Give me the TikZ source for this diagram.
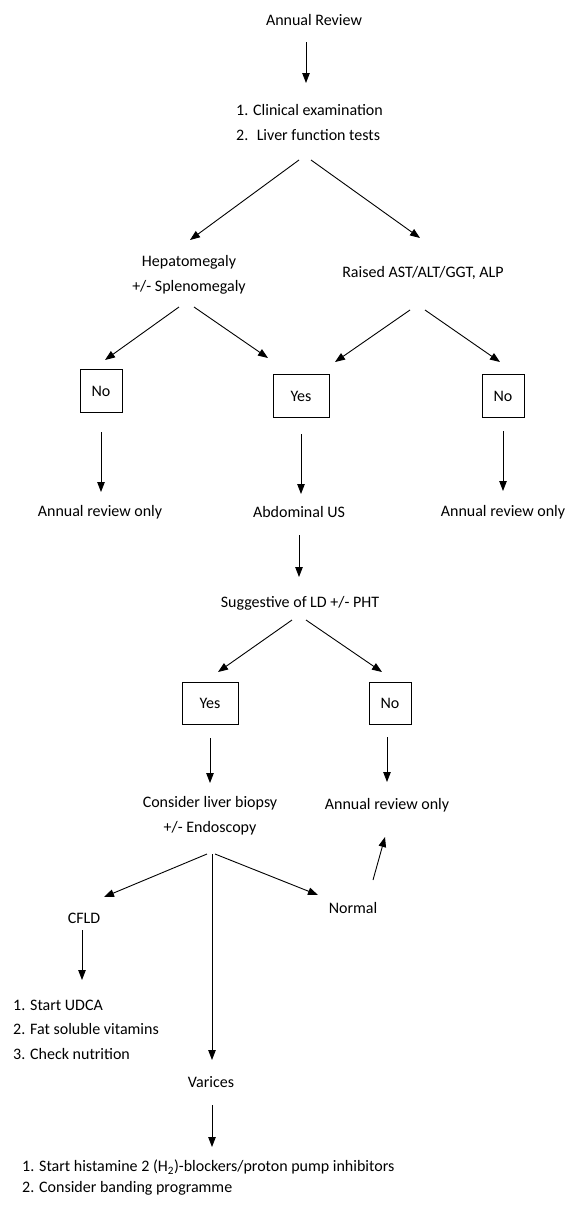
\documentclass[tikz,border=0pt]{standalone}
\usepackage{fontspec}
\setmainfont{Carlito}
\usetikzlibrary{arrows.meta}
\begin{document}
\begin{tikzpicture}[x=1pt,y=-1pt,
  txt/.style={inner sep=0pt, font=\fontsize{16}{25}\selectfont, align=center},
  ltxt/.style={txt, align=left, anchor=west},
  box/.style={draw, line width=0.9pt, minimum width=42pt, minimum height=43pt, inner sep=0pt, font=\fontsize{16}{18}\selectfont},
  arr/.style={line width=0.9pt, -{Triangle[length=10pt,width=7.5pt]}}]
\useasboundingbox (0,0) rectangle (566,1210);
% nodes
\node[txt] (ar) at (314,20) {Annual Review};
\node[ltxt] (clin) at (236,122.5) {1. Clinical examination\\2.~ Liver function tests};
\node[txt] (hep) at (189,275) {Hepatomegaly\\+/- Splenomegaly};
\node[txt] (rai) at (423,273) {Raised AST/ALT/GGT, ALP};
\node[box] (no1) at (101,391) {No};
\node[box, minimum width=56pt] (yes1) at (301,396) {Yes};
\node[box] (no2) at (503,396) {No};
\node[txt] (arl) at (100,512) {Annual review only};
\node[txt] (us) at (299,512) {Abdominal US};
\node[txt] (arr) at (503,512) {Annual review only};
\node[txt] (sug) at (300,603) {Suggestive of LD +/- PHT};
\node[box, minimum width=56pt, minimum height=42pt] (yes2) at (210,703) {Yes};
\node[box, minimum height=42pt] (no3) at (390,703) {No};
\node[txt] (cons) at (210,815.5) {Consider liver biopsy\\+/- Endoscopy};
\node[txt] (arm) at (387,805) {Annual review only};
\node[txt] (cfld) at (84,918) {CFLD};
\node[txt] (norm) at (353,908) {Normal};
\node[ltxt, font=\fontsize{16}{24.5}\selectfont] (clist) at (13,1029.5) {1. Start UDCA\\2. Fat soluble vitamins\\3. Check nutrition};
\node[txt] (var) at (211,1082) {Varices};
\node[ltxt, font=\fontsize{16}{21}\selectfont] (vlist) at (22,1177.5) {1. Start histamine 2 (H\textsubscript{2})-blockers/proton pump inhibitors\\2. Consider banding programme};
% connector end points
\coordinate (c1s) at (306,42);   \coordinate (c1e) at (306,83);
\coordinate (c2s) at (299,160);  \coordinate (c2e) at (190,240);
\coordinate (c3s) at (311,160);  \coordinate (c3e) at (420,238);
\coordinate (c4s) at (179,307);  \coordinate (c4e) at (105,360);
\coordinate (c5s) at (194,307);  \coordinate (c5e) at (268,358);
\coordinate (c6s) at (410,310);  \coordinate (c6e) at (335,362);
\coordinate (c7s) at (425,310);  \coordinate (c7e) at (500,362);
\coordinate (c8s) at (101,432);  \coordinate (c8e) at (101,492);
\coordinate (c9s) at (301,434);  \coordinate (c9e) at (301,494);
\coordinate (c10s) at (503,431); \coordinate (c10e) at (503,491);
\coordinate (c11s) at (299,535); \coordinate (c11e) at (299,577);
\coordinate (c12s) at (292,620); \coordinate (c12e) at (218,672);
\coordinate (c13s) at (306,620); \coordinate (c13e) at (382,672);
\coordinate (c14s) at (210,738); \coordinate (c14e) at (210,783);
\coordinate (c15s) at (387,737); \coordinate (c15e) at (387,782);
\coordinate (c16s) at (207,854); \coordinate (c16e) at (104,897);
\coordinate (c17s) at (212,854); \coordinate (c17e) at (212,1060);
\coordinate (c18s) at (215,854); \coordinate (c18e) at (318,895);
\coordinate (c19s) at (373,880); \coordinate (c19e) at (385,837);
\coordinate (c20s) at (82,930);  \coordinate (c20e) at (82,980);
\coordinate (c21s) at (212,1105);\coordinate (c21e) at (212,1147);
\foreach \i in {1,...,21} {\draw[arr] (c\i s) -- (c\i e);}
\end{tikzpicture}
\end{document}
